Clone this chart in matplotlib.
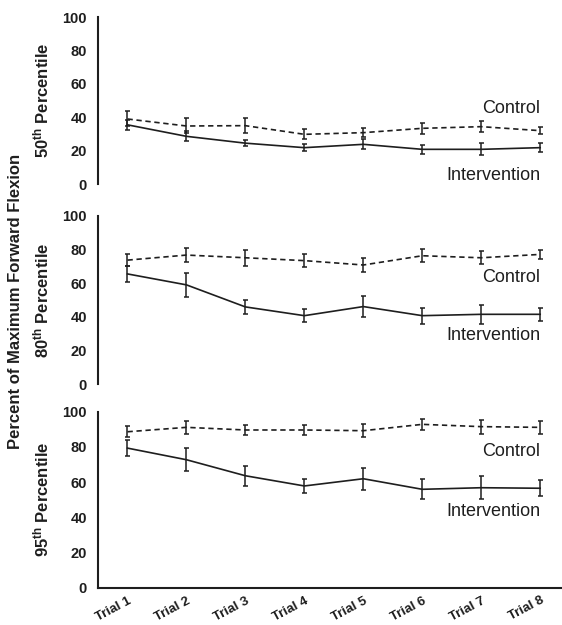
import numpy as np
import matplotlib
matplotlib.use('Agg')
import matplotlib.pyplot as plt

plt.rcParams['font.family'] = ['Liberation Sans', 'DejaVu Sans']
plt.rcParams['mathtext.fontset'] = 'custom'
plt.rcParams['mathtext.rm'] = 'Liberation Sans:bold'
plt.rcParams['mathtext.bf'] = 'Liberation Sans:bold'

trials = ['Trial 1', 'Trial 2', 'Trial 3', 'Trial 4', 'Trial 5', 'Trial 6', 'Trial 7', 'Trial 8']
panel_labels = ['50', '80', '95']

# 50th percentile
ctrl_50 = [39, 34.8, 35, 29.8, 30.8, 33.4, 34.4, 32]
ctrl_50_err = [4.5, 4.5, 4.4, 3, 2.8, 3.2, 3.3, 2.1]
int_50 = [35.5, 28.6, 24.5, 21.8, 23.8, 20.8, 20.8, 21.8]
int_50_err = [3, 3, 1.8, 2, 3, 2.7, 3.6, 2.8]

# 80th percentile
ctrl_80 = [73.6, 76.6, 75, 73.3, 70.7, 76.2, 75, 77]
ctrl_80_err = [3.6, 4, 4.6, 4, 4, 4, 3.9, 2.7]
int_80 = [65.4, 58.9, 45.8, 40.6, 46, 40.6, 41.4, 41.4]
int_80_err = [5, 7.3, 4.3, 3.7, 6, 4.7, 5.8, 4]

# 95th percentile
ctrl_95 = [88.6, 91.1, 89.6, 89.6, 89.2, 92.8, 91.5, 91.1]
ctrl_95_err = [3.2, 3.8, 3.1, 3.1, 3.7, 3, 3.9, 3.8]
int_95 = [79.3, 72.7, 63.6, 57.8, 61.9, 55.9, 56.8, 56.5]
int_95_err = [4.7, 6.6, 5.7, 4, 6.3, 5.7, 6.6, 4.5]

panels = [
    (ctrl_50, ctrl_50_err, int_50, int_50_err),
    (ctrl_80, ctrl_80_err, int_80, int_80_err),
    (ctrl_95, ctrl_95_err, int_95, int_95_err),
]
# label y positions (data units) for "Control" / "Intervention"
ctrl_text_y = [45, 63, 77.5]
int_text_y = [5, 29, 43.4]

# axes boxes in figure fraction: left, bottom, width, height
boxes = [
    [0.1744, 0.7056, 0.8256, 0.2667],
    [0.1744, 0.3856, 0.8256, 0.2693],
    [0.1744, 0.0597, 0.8256, 0.2816],
]

col = '#1e1e1e'
fig = plt.figure(figsize=(5.62, 6.25), dpi=100)
x = np.arange(1, len(trials) + 1)

for i, (c, ce, iv, ie) in enumerate(panels):
    ax = fig.add_axes(boxes[i])
    ax.errorbar(x, c, yerr=ce, color=col, linestyle=(0, (3.2, 2.2)), linewidth=1.2,
                elinewidth=1.1, capsize=1.8, capthick=1.1)
    ax.errorbar(x, iv, yerr=ie, color=col, linestyle='-', linewidth=1.2,
                elinewidth=1.1, capsize=1.8, capthick=1.1)
    ax.set_ylim(0, 100)
    ax.set_xlim(0.5, 8.37)
    ax.set_yticks(np.arange(0, 101, 20))
    ax.tick_params(axis='y', length=0, pad=8, labelsize=10.5, colors=col)
    for lbl in ax.get_yticklabels():
        lbl.set_fontweight('bold')
    for s in ['top', 'right']:
        ax.spines[s].set_visible(False)
    ax.spines['left'].set_linewidth(1.5)
    ax.spines['left'].set_color(col)
    if i < 2:
        ax.spines['bottom'].set_visible(False)
        ax.set_xticks([])
    else:
        ax.spines['bottom'].set_linewidth(1.5)
        ax.spines['bottom'].set_color(col)
        ax.set_xticks(x)
        ax.set_xticklabels(trials, rotation=28, ha='right', rotation_mode='anchor',
                           fontsize=9.5, fontweight='bold', color=col)
        ax.tick_params(axis='x', length=0, pad=5)
    ax.set_ylabel(r'$\mathbf{' + panel_labels[i] + r'^{th}}$ Percentile',
                  fontsize=12, fontweight='bold', color=col, labelpad=8)
    ax.text(8, ctrl_text_y[i], 'Control', ha='right', va='center', fontsize=13, color=col)
    ax.text(8, int_text_y[i], 'Intervention', ha='right', va='center', fontsize=13, color=col)

fig.text(0.027, 0.518, 'Percent of Maximum Forward Flexion', rotation=90, ha='center',
         va='center', fontsize=12, fontweight='bold', color=col)

fig.savefig('out.png', dpi=100)
